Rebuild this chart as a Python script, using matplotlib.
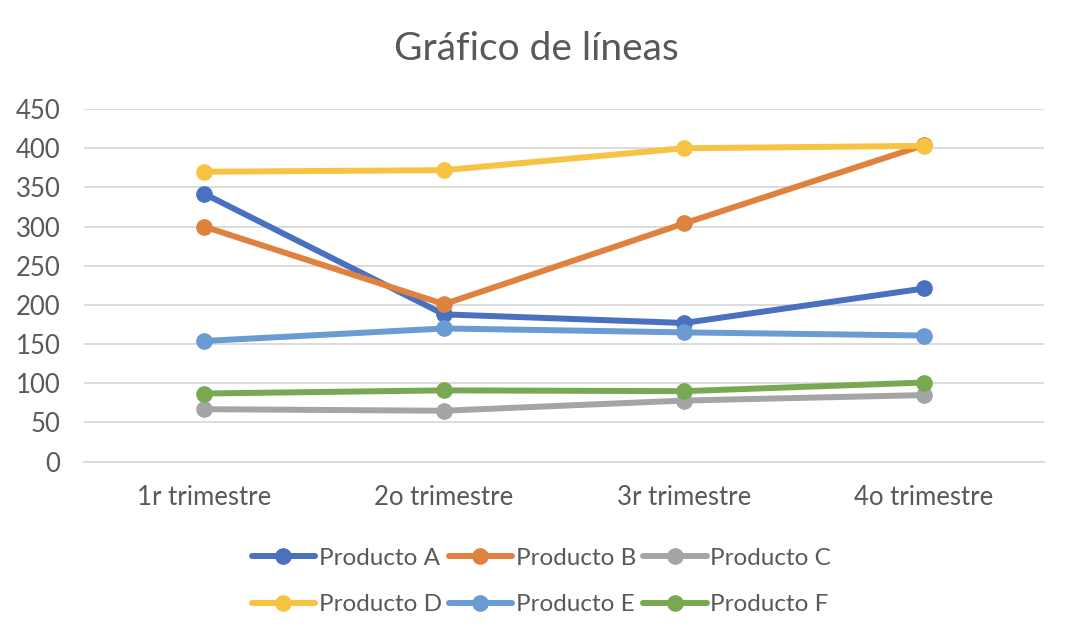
import matplotlib
matplotlib.use("Agg")
import matplotlib.pyplot as plt

plt.rcParams['font.family'] = ['Lato', 'DejaVu Sans']

categories = ['1r trimestre', '2o trimestre', '3r trimestre', '4o trimestre']
producto_a = [342, 188, 177, 221]
producto_b = [300, 201, 304, 404]
producto_c = [67, 65, 78, 85]
producto_d = [370, 372, 400, 403]
producto_e = [154, 170, 165, 161]
producto_f = [87, 91, 90, 101]

names = ['Producto A', 'Producto B', 'Producto C', 'Producto D', 'Producto E', 'Producto F']
values = [producto_a, producto_b, producto_c, producto_d, producto_e, producto_f]
# Office colours as they look in the picture
colors = ['#4A70C0', '#E0823F', '#A5A5A5', '#F6C343', '#6A9BD2', '#78A952']

text_color = '#595959'

fig = plt.figure(figsize=(10.72, 6.34), dpi=100)
ax = fig.add_axes([0.0784, 0.2718, 0.8955, 0.5562])

x = range(len(categories))
handles = []
for name, vals, c in zip(names, values, colors):
    h, = ax.plot(x, vals, color=c, linewidth=4.3, marker='o',
                 markersize=11, label=name, solid_capstyle='round')
    handles.append(h)

ax.set_xlim(-0.5, 3.5)
ax.set_ylim(0, 450)
ax.set_yticks(range(0, 451, 50))
ax.set_xticks(list(x))
ax.set_xticklabels(categories)
ax.grid(axis='y', color='#D9D9D9', linewidth=1.3)
ax.set_axisbelow(True)
for side in ['top', 'right', 'left']:
    ax.spines[side].set_visible(False)
ax.spines['bottom'].set_color('#D9D9D9')
ax.spines['bottom'].set_linewidth(1.3)
ax.tick_params(axis='both', length=0, labelsize=18.5, colors=text_color)
ax.tick_params(axis='y', pad=17)
ax.tick_params(axis='x', pad=17)

fig.text(0.5, 0.922, 'Gráfico de líneas', ha='center', va='center',
         fontsize=28, color=text_color)

# legend fills by column, so reorder to get A B C / D E F
order = [0, 3, 1, 4, 2, 5]
leg = fig.legend([handles[i] for i in order], [names[i] for i in order],
                 loc='center', bbox_to_anchor=(0.505, 0.083), ncol=3,
                 frameon=False, fontsize=17.5, handlelength=2.6,
                 handletextpad=0.15, columnspacing=0.3, labelspacing=1.05)
for t in leg.get_texts():
    t.set_color(text_color)

fig.savefig('out.png', dpi=100)
